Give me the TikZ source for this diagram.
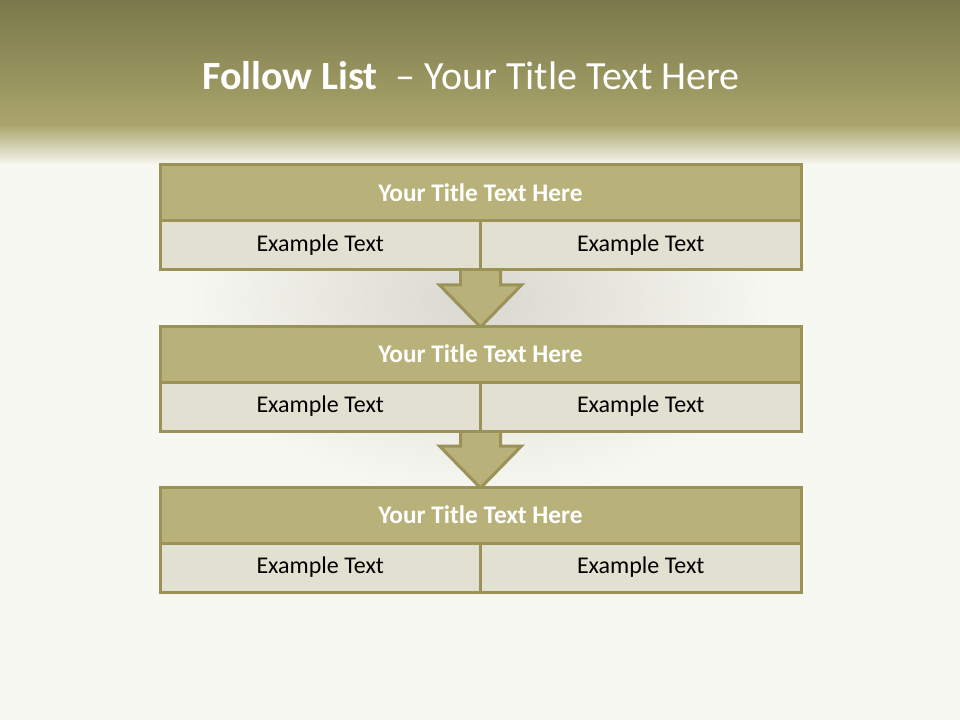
\documentclass[tikz,border=0pt]{standalone}
\usepackage{fontspec}
\setmainfont{Carlito}
\usetikzlibrary{calc,backgrounds}
\definecolor{bg}{HTML}{F8F8F2}
\definecolor{hdrtop}{HTML}{7A794B}
\definecolor{hdrmid}{HTML}{AAA56C}
\definecolor{titlefill}{HTML}{B8B27A}
\definecolor{lowfill}{HTML}{E2E0D0}
\definecolor{edge}{HTML}{9A9256}
\definecolor{bowl}{HTML}{D8D8D0}
\tikzset{
  titlebox/.style={rectangle, draw=edge, fill=titlefill, line width=2.25pt, inner sep=0pt, outer sep=0pt,
    minimum width=480.75pt, minimum height=42pt, anchor=north west,
    text=white, font=\fontsize{19}{22}\selectfont\bfseries},
  lowbox/.style={rectangle, draw=edge, fill=lowfill, line width=2.25pt, inner sep=0pt, outer sep=0pt,
    minimum width=240.4pt, minimum height=36.75pt, anchor=north west,
    text=black, font=\fontsize{18}{21}\selectfont},
  blockarrow/.style={draw=edge, fill=titlefill, line width=2.25pt, line join=miter},
}
\begin{document}
\begin{tikzpicture}[x=0.75pt,y=-0.75pt]
\useasboundingbox (0,0) rectangle (960,720);
% boxes
\foreach \i in {0,1,2} {
  \pgfmathsetmacro{\top}{165+161*\i}
  \node[titlebox] (t\i) at (160,\top) {Your Title Text Here};
  \node[lowbox] (l\i) at (160,\top+56) {Example Text};
  \node[lowbox] (r\i) at (480.5,\top+56) {Example Text};
}
\begin{scope}[on background layer]
  \fill[bg] (0,0) rectangle (960,720);
  \shade[inner color=bowl, outer color=bg] (480,300) ellipse [x radius=300, y radius=200];
  \shade[top color=hdrtop, bottom color=hdrmid] (0,0) rectangle (960,126);
  \shade[top color=hdrmid, bottom color=bg] (0,125) rectangle (960,165);
  \foreach \i/\j in {0/1,1/2} {
    \draw[blockarrow]
      ($(r\i.south west)+(-20,-2)$) -- ($(r\i.south west)+(-20,15)$) -- ($(r\i.south west)+(-41,15)$)
      -- ($(t\j.north)+(0,1)$)
      -- ($(r\i.south west)+(41,15)$) -- ($(r\i.south west)+(20,15)$) -- ($(r\i.south west)+(20,-2)$) -- cycle;
  }
\end{scope}
\node[text=white, font=\fontsize{30}{36}\selectfont] (title) at (471,76)
  {\textbf{Follow List}\ \ – Your Title Text Here};
\end{tikzpicture}
\end{document}
